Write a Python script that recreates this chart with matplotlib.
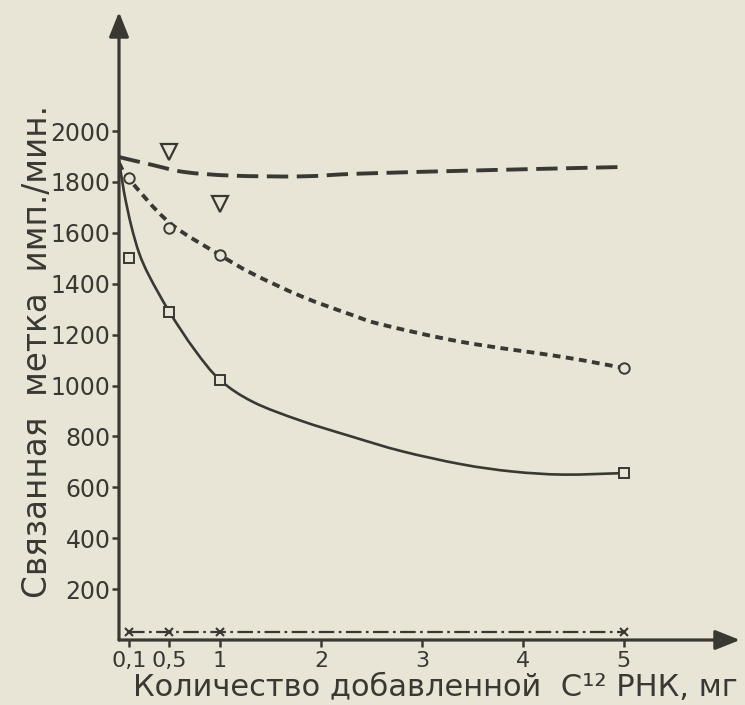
import matplotlib
matplotlib.use('Agg')
import matplotlib.pyplot as plt
from matplotlib.path import Path
from matplotlib.patches import PathPatch

# values (x in mg, y in imp./min)
tri_x = [0.5, 1.0]
tri_y = [1918, 1713]
tri_curve_x = [0.0, 0.33, 0.65, 1.12, 1.8, 2.4, 3.7, 5.0]
tri_curve_y = [1898, 1867, 1839, 1825, 1822, 1833, 1847, 1859]

circ_x = [0.1, 0.5, 1.0, 5.0]
circ_y = [1816, 1619, 1513, 1069]
circ_curve_x = [0.0, 0.1, 0.5, 1.0, 1.32, 1.81, 2.31, 2.6, 3.4, 4.4, 5.0]
circ_curve_y = [1875, 1812, 1640, 1513, 1440, 1350, 1277, 1240, 1171, 1112, 1069]

sq_x = [0.1, 0.5, 1.0, 5.0]
sq_y = [1501, 1289, 1022, 656]
sq_curve_x = [0.0, 0.05, 0.12, 0.2, 0.3, 0.5, 0.75, 1.0, 1.33, 1.8, 2.3, 2.8, 3.4, 3.9, 4.4, 5.0]
sq_curve_y = [1886, 1760, 1630, 1520, 1430, 1289, 1140, 1022, 935, 862, 800, 742, 690, 662, 650, 656]

cross_x = [0.1, 0.5, 1.0, 5.0]
cross_y = [30, 30, 30, 30]

xticks = [0.1, 0.5, 1, 2, 3, 4, 5]
xtick_labels = ['0,1', '0,5', '1', '2', '3', '4', '5']
yticks = [200, 400, 600, 800, 1000, 1200, 1400, 1600, 1800, 2000]

paper = '#e9e5d6'
ink = '#3a3833'

plt.rcParams['font.family'] = ['DejaVu Sans']


def smooth_path(xs, ys):
    # Catmull-Rom through the read points, as cubic Bezier segments
    pts = list(zip(xs, ys))
    verts = [pts[0]]
    codes = [Path.MOVETO]
    n = len(pts)
    for i in range(n - 1):
        p0 = pts[max(i - 1, 0)]
        p1 = pts[i]
        p2 = pts[i + 1]
        p3 = pts[min(i + 2, n - 1)]
        c1 = (p1[0] + (p2[0] - p0[0]) / 6, p1[1] + (p2[1] - p0[1]) / 6)
        c2 = (p2[0] - (p3[0] - p1[0]) / 6, p2[1] - (p3[1] - p1[1]) / 6)
        verts += [c1, c2, p2]
        codes += [Path.CURVE4] * 3
    return Path(verts, codes)


fig = plt.figure(figsize=(7.45, 7.05), dpi=100, facecolor=paper)
ax = fig.add_axes([119 / 745, 65 / 705, 621 / 745, 628 / 705], facecolor=paper)
ax.set_xlim(0, 6.15)
ax.set_ylim(0, 2468)
for s in ax.spines.values():
    s.set_visible(False)

# axes drawn as arrows
arrow = dict(arrowstyle='-|>,head_length=0.75,head_width=0.3', color=ink, lw=2.3,
             mutation_scale=20, shrinkA=0, shrinkB=0)
ax.annotate('', xy=(1, 0), xytext=(0, 0), xycoords='axes fraction', arrowprops=arrow)
ax.annotate('', xy=(0, 1), xytext=(0, 0), xycoords='axes fraction', arrowprops=arrow)

# curves
ax.add_patch(PathPatch(smooth_path(tri_curve_x, tri_curve_y), fill=False, edgecolor=ink,
                       lw=2.8, linestyle=(0, (5.5, 2.2))))
ax.add_patch(PathPatch(smooth_path(circ_curve_x, circ_curve_y), fill=False, edgecolor=ink,
                       lw=2.8, linestyle=(0, (2.0, 1.4))))
ax.add_patch(PathPatch(smooth_path(sq_curve_x, sq_curve_y), fill=False, edgecolor=ink,
                       lw=1.9))
ax.plot(cross_x, cross_y, color=ink, lw=1.6, dashes=(7, 2, 1.2, 2))

# points
ax.plot(tri_x, tri_y, linestyle='none', marker='v', ms=11, mfc=paper, mec=ink, mew=1.6)
ax.plot(circ_x, circ_y, linestyle='none', marker='o', ms=7.5, mfc=paper, mec=ink, mew=1.4)
ax.plot(sq_x, sq_y, linestyle='none', marker='s', ms=7.5, mfc=paper, mec=ink, mew=1.4)
ax.plot(cross_x, cross_y, linestyle='none', marker='x', ms=5.5, mec=ink, mew=1.5, clip_on=False)

ax.set_xticks(xticks)
ax.set_xticklabels(xtick_labels)
ax.set_yticks(yticks)
ax.tick_params(axis='y', length=5, width=1.8, color=ink, labelcolor=ink, labelsize=17, pad=1)
ax.tick_params(axis='x', length=5, width=1.8, color=ink, labelcolor=ink, labelsize=16, pad=3)

fig.text(38 / 745, 1 - 352 / 705, 'Связанная  метка  имп./мин.', rotation=90,
         ha='center', va='center', fontsize=23.5, color=ink)
fig.text(435 / 745, 1 - 688 / 705, 'Количество добавленной  C¹² РНК, мг',
         ha='center', va='center', fontsize=22, color=ink)

fig.savefig('out.png', dpi=100, facecolor=paper)
